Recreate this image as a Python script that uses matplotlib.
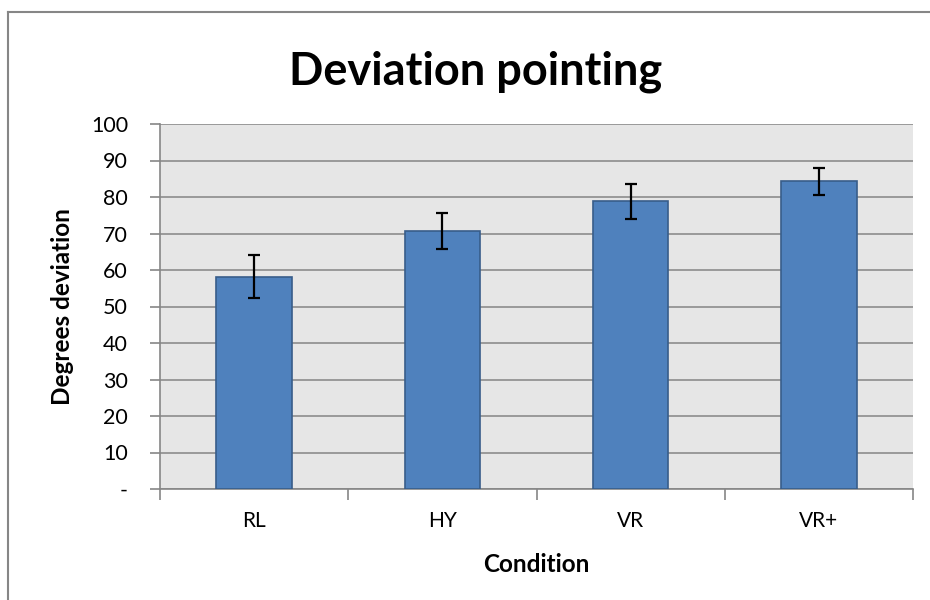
import matplotlib
matplotlib.use("Agg")
import matplotlib.pyplot as plt
from matplotlib.lines import Line2D
import numpy as np

categories = ["RL", "HY", "VR", "VR+"]
values = [58.2, 70.7, 78.8, 84.3]
errors = [5.9, 5.0, 4.7, 3.7]
yticks = [0, 10, 20, 30, 40, 50, 60, 70, 80, 90, 100]
ytick_labels = ["-", "10", "20", "30", "40", "50", "60", "70", "80", "90", "100"]

plt.rcParams['font.family'] = ['Lato', 'DejaVu Sans']

W, H = 930, 600
fig = plt.figure(figsize=(W / 100, H / 100), dpi=100)
fig.patch.set_facecolor("white")

# outer chart border (only top and left are visible in the frame)
fig.add_artist(Line2D([8 / W, 1.0], [1 - 12 / H, 1 - 12 / H], transform=fig.transFigure,
                      color="#868686", linewidth=1.5))
fig.add_artist(Line2D([8 / W, 8 / W], [0.0, 1 - 12 / H], transform=fig.transFigure,
                      color="#868686", linewidth=1.5))

left, right, top, bottom = 160, 913, 124, 489
ax = fig.add_axes([left / W, 1 - bottom / H, (right - left) / W, (bottom - top) / H])
ax.set_facecolor("#e6e6e6")

x = np.arange(len(categories))
ax.bar(x, values, width=0.4, color="#4f81bd", edgecolor="#385d8a", linewidth=1.2, zorder=3)
ax.errorbar(x, values, yerr=errors, fmt="none", ecolor="black", elinewidth=1.6,
            capsize=4.5, capthick=1.6, zorder=4)

ax.set_xlim(-0.5, len(categories) - 0.5)
ax.set_ylim(0, 100)
ax.set_yticks(yticks)
ax.set_yticklabels(ytick_labels, fontsize=15.5)
ax.yaxis.grid(True, color="#8c8c8c", linewidth=1.2, zorder=0)
ax.set_axisbelow(True)

ax.set_xticks(x)
ax.set_xticklabels(categories, fontsize=15)
ax.tick_params(axis="x", length=0, pad=16)
ax.set_xticks(np.arange(-0.5, len(categories)), minor=True)
ax.tick_params(axis="x", which="minor", length=8, width=1.2, color="#868686", direction="out")
ax.tick_params(axis="y", length=7, width=1.2, color="#868686", direction="out", pad=16)

for side in ["top", "right"]:
    ax.spines[side].set_visible(False)
for side in ["left", "bottom"]:
    ax.spines[side].set_color("#868686")
    ax.spines[side].set_linewidth(1.2)

ax.set_xlabel("Condition", fontsize=17.5, fontweight="bold")
ax.set_ylabel("Degrees deviation", fontsize=17.5, fontweight="bold")
ax.xaxis.set_label_coords((536 - left) / (right - left), -(565 - bottom) / (bottom - top))
ax.yaxis.set_label_coords(-(left - 62) / (right - left), 0.5)
ax.xaxis.label.set_va("center")
ax.yaxis.label.set_va("center")

fig.text((290 + 662) / 2 / W, 1 - 72 / H, "Deviation pointing", ha="center", va="center",
         fontsize=32.5, fontweight="bold")

fig.savefig("out.png", dpi=100)
